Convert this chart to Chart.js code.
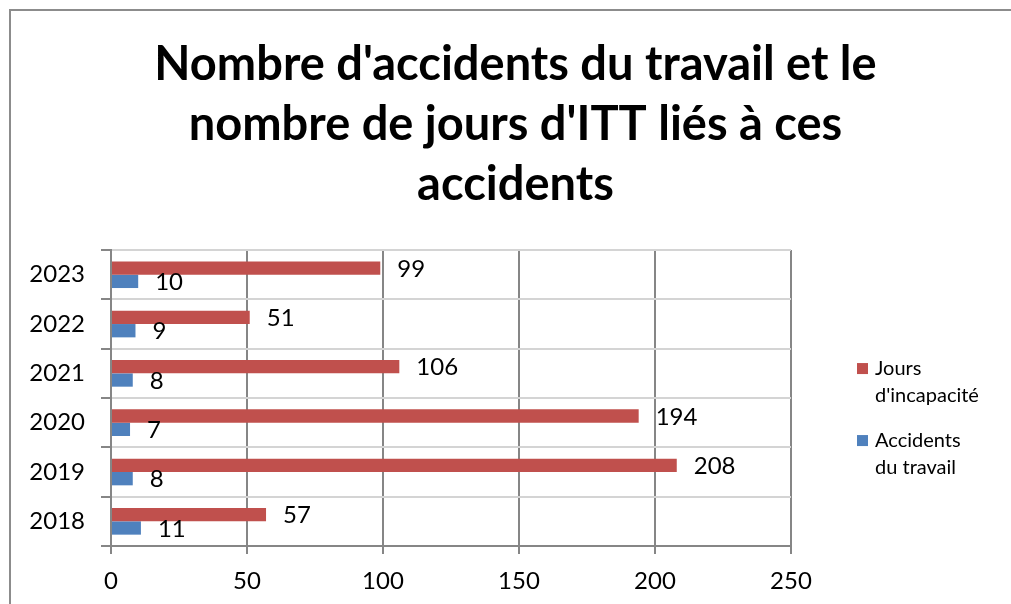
<!DOCTYPE html>
<html>
<head>
<meta charset="utf-8">
<script src="https://cdn.jsdelivr.net/npm/chart.js@4.4.1/dist/chart.umd.min.js"></script>
<style>
  html, body { margin: 0; padding: 0; background: #fff; }
  #wrap { position: relative; width: 1011px; height: 604px; }
</style>
</head>
<body>
<div id="wrap"><canvas id="myChart"></canvas></div>
<script>
// chart data
const years = ['2023', '2022', '2021', '2020', '2019', '2018'];
const joursIncapacite = [99, 51, 106, 194, 208, 57];
const accidentsTravail = [10, 9, 8, 7, 8, 11];
const xTicks = [0, 50, 100, 150, 200, 250];
const titleLines = ["Nombre d'accidents du travail et le", "nombre de jours d'ITT liés à ces", 'accidents'];
const legendLines = [['Jours', "d'incapacité"], ['Accidents', 'du travail']];

const RED = '#C0504D';
const BLUE = '#4F81BD';
const FONT = 'Lato, "Open Sans", sans-serif';

// outer frame (top + left edge, like the Excel chart border)
const framePlugin = {
  id: 'frame',
  beforeDraw(chart) {
    const ctx = chart.ctx;
    ctx.save();
    ctx.strokeStyle = '#8c8c8c';
    ctx.lineWidth = 2;
    ctx.beginPath();
    ctx.moveTo(10, chart.height);
    ctx.lineTo(10, 10);
    ctx.lineTo(chart.width, 10);
    ctx.stroke();
    ctx.restore();
  }
};

// value labels to the right of each bar
const valueLabels = {
  id: 'valueLabels',
  afterDatasetsDraw(chart) {
    const ctx = chart.ctx;
    ctx.save();
    ctx.font = '24px ' + FONT;
    ctx.fillStyle = '#000';
    ctx.textAlign = 'left';
    ctx.textBaseline = 'middle';
    chart.data.datasets.forEach((ds, i) => {
      chart.getDatasetMeta(i).data.forEach((bar, j) => {
        ctx.fillText(ds.data[j], bar.x + 17, bar.y + 1);
      });
    });
    ctx.restore();
  }
};

// legend with wrapped labels, drawn in the space on the right
const sideLegend = {
  id: 'sideLegend',
  afterDraw(chart) {
    const ctx = chart.ctx;
    const a = chart.chartArea;
    const x0 = a.right + 66;
    const y0 = a.top + 118;
    ctx.save();
    ctx.font = '20px ' + FONT;
    ctx.textBaseline = 'middle';
    ctx.textAlign = 'left';
    chart.data.datasets.forEach((ds, i) => {
      const y = y0 + i * 72;
      ctx.fillStyle = ds.backgroundColor;
      ctx.fillRect(x0, y - 5, 11, 11);
      ctx.fillStyle = '#000';
      legendLines[i].forEach((line, k) => {
        ctx.fillText(line, x0 + 18, y + k * 27);
      });
    });
    ctx.restore();
  }
};

const ctx = document.getElementById('myChart').getContext('2d');
new Chart(ctx, {
  type: 'bar',
  data: {
    labels: years,
    datasets: [
      {
        label: "Jours d'incapacité",
        data: joursIncapacite,
        backgroundColor: RED,
        xAxisID: 'x',
        yAxisID: 'y',
        categoryPercentage: 0.54,
        barPercentage: 1.0
      },
      {
        label: 'Accidents du travail',
        data: accidentsTravail,
        backgroundColor: BLUE,
        xAxisID: 'x',
        yAxisID: 'y',
        categoryPercentage: 0.54,
        barPercentage: 1.0
      }
    ]
  },
  options: {
    indexAxis: 'y',
    responsive: true,
    maintainAspectRatio: false,
    animation: false,
    layout: { padding: { left: 20, right: 0, top: 0, bottom: 0 } },
    plugins: {
      legend: { display: false },
      tooltip: { enabled: false },
      title: {
        display: true,
        text: titleLines,
        color: '#000',
        font: { family: FONT, size: 47, weight: 'bold', lineHeight: 1.277 },
        padding: { top: 35, bottom: 35 }
      }
    },
    scales: {
      x: {
        type: 'linear',
        min: 0,
        max: 250,
        afterBuildTicks: s => { s.ticks = xTicks.map(v => ({ value: v })); },
        afterFit: s => { s.height = 58; },
        grid: { color: '#868686', lineWidth: 2, tickLength: 8 },
        border: { color: '#868686', width: 2 },
        ticks: { color: '#000', font: { family: FONT, size: 24 }, padding: 13 }
      },
      y: {
        type: 'category',
        position: 'left',
        afterFit: s => { s.width = 91; },
        grid: { color: '#d4d4d4', lineWidth: 2, tickLength: 10, tickColor: '#868686', offset: true },
        border: { color: '#868686', width: 2 },
        ticks: { color: '#000', font: { family: FONT, size: 24 }, padding: 16 }
      },
      legendSpace: {
        axis: 'y',
        type: 'category',
        position: 'right',
        afterFit: s => { s.width = 220; },
        grid: { display: false },
        border: { display: false },
        ticks: { display: false }
      }
    }
  },
  plugins: [framePlugin, valueLabels, sideLegend]
});
</script>
</body>
</html>
